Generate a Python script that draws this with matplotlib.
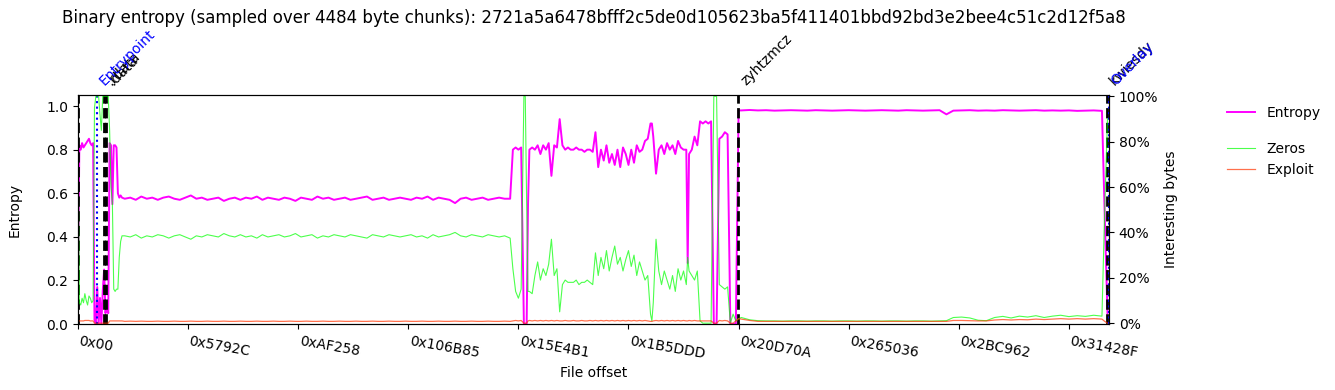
import matplotlib
matplotlib.use('Agg')
import matplotlib.pyplot as plt
import matplotlib.transforms as mtransforms
from matplotlib.ticker import PercentFormatter
import numpy as np

chunk_size = 4484
sha256 = "2721a5a6478bfff2c5de0d105623ba5f411401bbd92bd3e2bee4c51c2d12f5a8"
file_end = 3359000

# chunk indices (sampled), entropy / zeros / exploit values per chunk
idx_head = list(range(0, 33))
ent_head = [0.15, 0.82, 0.80, 0.83, 0.81, 0.82, 0.83, 0.84, 0.85, 0.83,
            0.82, 0.83, 0.02, 0.00, 0.17, 0.00, 0.12, 0.00, 0.15, 0.25,
            0.05, 0.10, 0.05, 0.83, 0.82, 0.55, 0.82, 0.82, 0.81, 0.60,
            0.58, 0.59, 0.58]
zer_head = [0.88, 0.09, 0.08, 0.11, 0.09, 0.13, 0.10, 0.08, 0.12, 0.11,
            0.09, 0.10, 0.95, 1.00, 1.00, 1.00, 0.92, 0.85, 1.00, 1.00,
            1.00, 1.00, 1.00, 0.85, 0.60, 0.53, 0.15, 0.14, 0.15, 0.15,
            0.29, 0.36, 0.385]
exp_head = [0.01, 0.01, 0.01, 0.01, 0.01, 0.012, 0.012, 0.012, 0.012, 0.01,
            0.01, 0.01, 0.00, 0.00, 0.00, 0.00, 0.00, 0.00, 0.00, 0.00,
            0.00, 0.00, 0.00, 0.01, 0.01, 0.01, 0.01, 0.01, 0.01, 0.01,
            0.01, 0.01, 0.01]

idx_text = list(range(34, 315, 4))
ent_text = [0.575, 0.580, 0.570, 0.585, 0.575, 0.580, 0.570, 0.580, 0.585, 0.575,
            0.570, 0.580, 0.590, 0.575, 0.580, 0.570, 0.575, 0.580, 0.565, 0.575,
            0.580, 0.570, 0.580, 0.575, 0.585, 0.570, 0.580, 0.575, 0.570, 0.580,
            0.575, 0.565, 0.580, 0.575, 0.570, 0.585, 0.575, 0.580, 0.570, 0.575,
            0.580, 0.570, 0.575, 0.580, 0.585, 0.570, 0.575, 0.580, 0.570, 0.575,
            0.580, 0.575, 0.570, 0.580, 0.575, 0.585, 0.570, 0.580, 0.575, 0.570,
            0.555, 0.575, 0.580, 0.570, 0.575, 0.580, 0.570, 0.575, 0.580, 0.575,
            0.575]
zer_text = [0.385, 0.380, 0.390, 0.375, 0.385, 0.380, 0.390, 0.385, 0.375, 0.385,
            0.390, 0.380, 0.370, 0.385, 0.380, 0.390, 0.385, 0.380, 0.395, 0.385,
            0.380, 0.390, 0.380, 0.385, 0.375, 0.390, 0.380, 0.385, 0.390, 0.380,
            0.385, 0.395, 0.380, 0.385, 0.390, 0.375, 0.385, 0.380, 0.390, 0.385,
            0.380, 0.390, 0.385, 0.380, 0.375, 0.390, 0.385, 0.380, 0.390, 0.385,
            0.380, 0.385, 0.390, 0.380, 0.385, 0.375, 0.390, 0.380, 0.385, 0.390,
            0.400, 0.385, 0.380, 0.390, 0.385, 0.380, 0.390, 0.385, 0.380, 0.385,
            0.375]
exp_text = [0.008, 0.009, 0.008, 0.009, 0.008, 0.008, 0.009, 0.008, 0.008, 0.009,
            0.008, 0.008, 0.009, 0.008, 0.008, 0.009, 0.008, 0.008, 0.009, 0.008,
            0.008, 0.009, 0.008, 0.008, 0.009, 0.008, 0.008, 0.009, 0.008, 0.008,
            0.009, 0.008, 0.008, 0.009, 0.008, 0.008, 0.009, 0.008, 0.008, 0.009,
            0.008, 0.008, 0.009, 0.008, 0.008, 0.009, 0.008, 0.008, 0.009, 0.008,
            0.008, 0.009, 0.008, 0.008, 0.009, 0.008, 0.008, 0.009, 0.008, 0.008,
            0.009, 0.008, 0.008, 0.009, 0.008, 0.008, 0.009, 0.008, 0.008, 0.009,
            0.008]

idx_mid = [316, 318, 320, 322, 324, 325, 326, 327, 328, 330,
           332, 334, 336, 338, 340, 342, 344, 346, 348, 350,
           352, 354, 356, 358, 360, 362, 364, 366, 368, 370,
           372, 374, 376, 378, 380, 382, 384, 386, 388, 390,
           392, 394, 396, 398, 400, 402, 404, 406, 408, 410,
           412, 414, 416, 417, 418, 420, 422, 424, 426, 428,
           430, 432, 434, 436, 438, 440, 442, 443, 444, 446,
           448, 450, 452, 454, 456, 458, 460, 462, 464, 466,
           468, 470, 472, 474, 476, 478, 480]
ent_mid = [0.80, 0.81, 0.80, 0.81, 0.00, 0.00, 0.00, 0.55, 0.80, 0.81,
           0.80, 0.82, 0.78, 0.82, 0.80, 0.83, 0.68, 0.82, 0.81, 0.94,
           0.82, 0.80, 0.81, 0.80, 0.80, 0.81, 0.80, 0.80, 0.79, 0.80,
           0.80, 0.79, 0.88, 0.72, 0.80, 0.75, 0.82, 0.74, 0.78, 0.73,
           0.80, 0.72, 0.81, 0.78, 0.73, 0.80, 0.74, 0.82, 0.79, 0.80,
           0.84, 0.85, 0.92, 0.92, 0.86, 0.69, 0.80, 0.82, 0.78, 0.83,
           0.80, 0.82, 0.78, 0.84, 0.81, 0.80, 0.80, 0.28, 0.78, 0.80,
           0.86, 0.82, 0.93, 0.92, 0.93, 0.92, 0.93, 0.00, 0.00, 0.85,
           0.86, 0.88, 0.87, 0.00, 0.00, 0.00, 0.98]
zer_mid = [0.24, 0.14, 0.11, 0.15, 1.00, 1.00, 0.53, 0.14, 0.14, 0.13,
           0.21, 0.27, 0.19, 0.24, 0.21, 0.26, 0.37, 0.21, 0.24, 0.05,
           0.17, 0.19, 0.18, 0.18, 0.18, 0.19, 0.17, 0.18, 0.18, 0.19,
           0.18, 0.17, 0.31, 0.21, 0.29, 0.24, 0.32, 0.23, 0.29, 0.34,
           0.26, 0.29, 0.23, 0.28, 0.32, 0.25, 0.30, 0.21, 0.27, 0.23,
           0.19, 0.21, 0.04, 0.01, 0.09, 0.37, 0.23, 0.17, 0.23, 0.19,
           0.15, 0.21, 0.14, 0.24, 0.19, 0.23, 0.17, 0.29, 0.23, 0.21,
           0.19, 0.23, 0.01, 0.00, 0.00, 0.00, 0.00, 1.00, 1.00, 0.17,
           0.16, 0.15, 0.16, 0.00, 0.04, 0.01, 0.02]
exp_mid = [0.010, 0.012, 0.010, 0.012, 0.000, 0.000, 0.000, 0.010, 0.012, 0.010,
           0.012, 0.010, 0.012, 0.010, 0.012, 0.010, 0.012, 0.010, 0.012, 0.010,
           0.010, 0.012, 0.010, 0.010, 0.012, 0.010, 0.010, 0.012, 0.010, 0.010,
           0.012, 0.010, 0.012, 0.010, 0.012, 0.010, 0.012, 0.010, 0.012, 0.010,
           0.012, 0.010, 0.012, 0.010, 0.012, 0.010, 0.012, 0.010, 0.012, 0.010,
           0.012, 0.010, 0.008, 0.008, 0.010, 0.012, 0.010, 0.012, 0.010, 0.012,
           0.010, 0.012, 0.010, 0.012, 0.010, 0.012, 0.010, 0.010, 0.012, 0.010,
           0.012, 0.010, 0.010, 0.010, 0.010, 0.010, 0.010, 0.000, 0.000, 0.012,
           0.010, 0.012, 0.010, 0.000, 0.000, 0.010, 0.020]

idx_tail = [482, 488, 494, 500, 506, 512, 518, 524, 530, 536,
            542, 548, 554, 560, 566, 572, 578, 584, 590, 596,
            602, 608, 614, 620, 626, 631, 636, 642, 648, 654,
            660, 666, 672, 678, 684, 690, 696, 702, 708, 714,
            720, 726, 732, 738, 744, 746, 748]
ent_tail = [0.980, 0.982, 0.980, 0.981, 0.979, 0.980, 0.981, 0.980, 0.979, 0.981,
            0.980, 0.979, 0.980, 0.981, 0.980, 0.979, 0.980, 0.981, 0.980, 0.979,
            0.981, 0.980, 0.979, 0.980, 0.981, 0.962, 0.979, 0.980, 0.981, 0.979,
            0.980, 0.979, 0.981, 0.980, 0.979, 0.980, 0.981, 0.979, 0.980, 0.979,
            0.980, 0.978, 0.979, 0.980, 0.978, 0.500, 0.050]
zer_tail = [0.025, 0.015, 0.011, 0.010, 0.010, 0.009, 0.010, 0.010, 0.009, 0.010,
            0.010, 0.009, 0.010, 0.010, 0.009, 0.010, 0.010, 0.009, 0.010, 0.010,
            0.009, 0.010, 0.010, 0.009, 0.010, 0.011, 0.025, 0.027, 0.023, 0.013,
            0.011, 0.025, 0.030, 0.023, 0.031, 0.027, 0.033, 0.025, 0.031, 0.035,
            0.029, 0.033, 0.030, 0.035, 0.031, 0.500, 0.900]
exp_tail = [0.018, 0.012, 0.008, 0.008, 0.008, 0.008, 0.008, 0.008, 0.008, 0.008,
            0.008, 0.008, 0.008, 0.008, 0.008, 0.008, 0.008, 0.008, 0.008, 0.008,
            0.008, 0.008, 0.008, 0.008, 0.008, 0.008, 0.012, 0.012, 0.011, 0.010,
            0.010, 0.014, 0.016, 0.014, 0.016, 0.015, 0.018, 0.016, 0.018, 0.020,
            0.018, 0.020, 0.018, 0.020, 0.018, 0.008, 0.000]

tick_labels = ['0x00', '0x5792C', '0xAF258', '0x106B85', '0x15E4B1',
               '0x1B5DDD', '0x20D70A', '0x265036', '0x2BC962', '0x31428F']

section_names = ['', '.rdata', '.data', 'zyhtzmcz', 'kwiesdy']
section_offsets = [0, 85200, 91500, 2151000, 3352500]
marker_names = ['Entrypoint', 'Overlay']
marker_offsets = [60500, 3357500]

idx = np.array(idx_head + idx_text + idx_mid + idx_tail)
offsets = idx * chunk_size
entropy = np.array(ent_head + ent_text + ent_mid + ent_tail)
zeros = np.array(zer_head + zer_text + zer_mid + zer_tail)
exploit = np.array(exp_head + exp_text + exp_mid + exp_tail)

fig = plt.figure(figsize=(13.35, 3.9), dpi=100)
ax1 = fig.add_axes([0.0584, 0.169, 0.7723, 0.587])
ax2 = ax1.twinx()

ax1.plot(offsets, entropy, color='#ff00ff', lw=1.4, label='Entropy')
ax2.plot(offsets, zeros, color='#00ff00', lw=0.8, alpha=0.7, label='Zeros')
ax2.plot(offsets, exploit, color='#ff3300', lw=0.9, alpha=0.7, label='Exploit')

ax1.set_ylim(0, 1.05)
ax2.set_ylim(-0.004, 1.005)
ax1.set_xlim(0, file_end)
ax2.yaxis.set_major_formatter(PercentFormatter(1.0, decimals=0))
ax2.set_yticks([0, 0.2, 0.4, 0.6, 0.8, 1.0])

ax1.set_xticks([int(t, 16) for t in tick_labels])
ax1.set_xticklabels(tick_labels, rotation=-10, ha='left')

trans = mtransforms.blended_transform_factory(ax1.transData, ax1.transAxes)
for name, off in zip(section_names, section_offsets):
    ax1.axvline(off, color='black', ls='--', lw=2)
    if name:
        ax1.text(off, 1.03, name, rotation=45, ha='left', va='bottom',
                 transform=trans, fontsize=10, color='black')
for name, off in zip(marker_names, marker_offsets):
    ax1.axvline(off, color='blue', ls=':', lw=1.5)
    ax1.text(off, 1.03, name, rotation=45, ha='left', va='bottom',
             transform=trans, fontsize=10, color='blue')

ax1.set_title("Binary entropy (sampled over %d byte chunks): %s" % (chunk_size, sha256),
              fontsize=12, pad=52)
ax1.set_xlabel("File offset")
ax1.set_ylabel("Entropy", labelpad=18)
ax2.set_ylabel("Interesting bytes")

fig.legend(handles=ax1.get_lines()[:1], loc='upper left',
           bbox_to_anchor=(0.910, 0.760), frameon=False)
fig.legend(handles=ax2.get_lines(), loc='upper left',
           bbox_to_anchor=(0.910, 0.668), frameon=False)

fig.savefig("out.png", dpi=100)
